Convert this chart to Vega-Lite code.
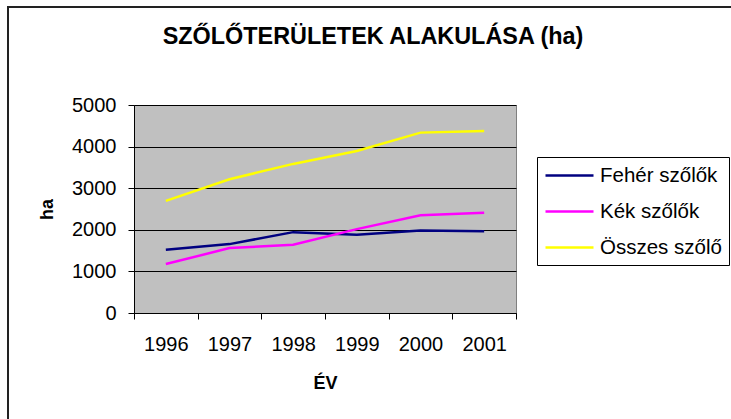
{
  "$schema": "https://vega.github.io/schema/vega-lite/v6.json",
  "autosize": {"type": "none"},
  "width": 382,
  "height": 208,
  "padding": {"left": 134, "top": 105, "right": 215, "bottom": 106},
  "background": "white",
  "title": {
    "text": "SZŐLŐTERÜLETEK ALAKULÁSA (ha)",
    "font": "Liberation Sans",
    "fontSize": 23.4,
    "fontWeight": "bold",
    "color": "black",
    "anchor": "middle",
    "dx": 48,
    "offset": -43
  },
  "data": {
    "values": [
      {"year": "1996", "series": "Fehér szőlők", "value": 1520},
      {"year": "1997", "series": "Fehér szőlők", "value": 1656},
      {"year": "1998", "series": "Fehér szőlők", "value": 1944},
      {"year": "1999", "series": "Fehér szőlők", "value": 1880},
      {"year": "2000", "series": "Fehér szőlők", "value": 1984},
      {"year": "2001", "series": "Fehér szőlők", "value": 1968},
      {"year": "1996", "series": "Kék szőlők", "value": 1176},
      {"year": "1997", "series": "Kék szőlők", "value": 1560},
      {"year": "1998", "series": "Kék szőlők", "value": 1640},
      {"year": "1999", "series": "Kék szőlők", "value": 2016},
      {"year": "2000", "series": "Kék szőlők", "value": 2352},
      {"year": "2001", "series": "Kék szőlők", "value": 2408},
      {"year": "1996", "series": "Összes szőlő", "value": 2696},
      {"year": "1997", "series": "Összes szőlő", "value": 3216},
      {"year": "1998", "series": "Összes szőlő", "value": 3584},
      {"year": "1999", "series": "Összes szőlő", "value": 3896},
      {"year": "2000", "series": "Összes szőlő", "value": 4336},
      {"year": "2001", "series": "Összes szőlő", "value": 4376}
    ]
  },
  "layer": [
    {
      "mark": {"type": "rect", "fill": null, "stroke": "#222222", "strokeWidth": 2},
      "encoding": {
        "x": {"value": -126},
        "x2": {"value": 620},
        "y": {"value": -98},
        "y2": {"value": 330}
      }
    },
    {
      "mark": {"type": "line", "strokeWidth": 2.5},
      "encoding": {
        "x": {
          "field": "year",
          "type": "ordinal",
          "scale": {"type": "band", "paddingInner": 0, "paddingOuter": 0},
          "axis": {
            "title": "ÉV",
            "labelAngle": 0,
            "tickBand": "extent",
            "tickSize": 6,
            "tickColor": "black",
            "domainColor": "black",
            "labelPadding": 15,
            "titlePadding": 20
          }
        },
        "y": {
          "field": "value",
          "type": "quantitative",
          "scale": {"domain": [0, 5000], "nice": false},
          "axis": {
            "title": "ha",
            "format": "d",
            "values": [0, 1000, 2000, 3000, 4000, 5000],
            "grid": true,
            "gridColor": "black",
            "gridOpacity": 1,
            "tickSize": 6,
            "tickColor": "black",
            "domainColor": "black",
            "labelPadding": 12,
            "titlePadding": 15
          }
        },
        "color": {
          "field": "series",
          "type": "nominal",
          "scale": {
            "domain": ["Fehér szőlők", "Kék szőlők", "Összes szőlő"],
            "range": ["#000080", "#FF00FF", "#FFFF00"]
          },
          "legend": {
            "title": null,
            "orient": "none",
            "legendX": 403,
            "legendY": 52,
            "symbolType": "M-1,0H3.8",
            "symbolSize": 400,
            "symbolStrokeWidth": 2.5,
            "symbolFillColor": "transparent",
            "rowPadding": 14,
            "strokeColor": "black",
            "padding": 7,
            "labelOffset": 33
          }
        }
      }
    }
  ],
  "config": {
    "font": "Liberation Sans",
    "view": {"fill": "#C0C0C0", "stroke": "#808080", "strokeWidth": 1},
    "axis": {
      "labelFont": "Liberation Sans",
      "labelFontSize": 20,
      "labelColor": "black",
      "titleFont": "Liberation Sans",
      "titleFontSize": 18,
      "titleFontWeight": "bold",
      "titleColor": "black"
    },
    "legend": {
      "labelFont": "Liberation Sans",
      "labelFontSize": 20.5,
      "labelColor": "black",
      "labelLimit": 300
    }
  }
}
